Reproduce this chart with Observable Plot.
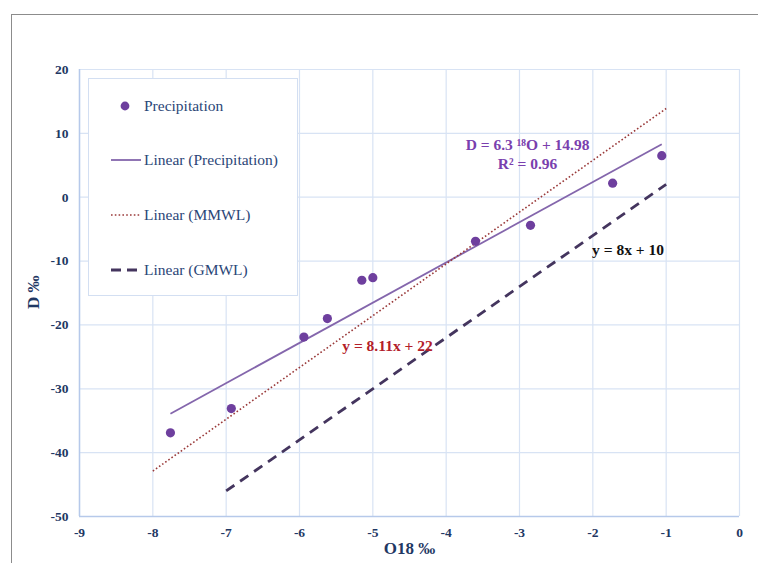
<!DOCTYPE html>
<html>
<head>
<meta charset="utf-8">
<script src="https://cdn.jsdelivr.net/npm/d3@7"></script>
<script src="https://cdn.jsdelivr.net/npm/@observablehq/plot@0.6"></script>
<style>
  html, body { margin: 0; padding: 0; background: #fff; }
  #wrap { position: relative; width: 758px; height: 563px; overflow: hidden; }
  #frame { position: absolute; left: 11px; top: 14px; width: 900px; height: 700px;
           border-left: 1.5px solid #8c8c8c; border-top: 1.5px solid #8c8c8c; }
  #chart { position: absolute; left: 0; top: 0; }
  #legend { position: absolute; left: 88px; top: 78px; width: 208px; height: 216px;
            border: 1.5px solid #d3dff2; background: #fff;
            font-family: "Liberation Serif", "Times New Roman", serif; font-size: 15.5px; color: #2b4677; }
  .item { position: absolute; left: 22px; display: flex; align-items: center; height: 20px; white-space: nowrap; }
  .item svg { margin-right: 3px; }
</style>
</head>
<body>
<div id="wrap">
  <div id="frame"></div>
  <div id="chart"></div>
  <div id="legend"></div>
</div>
<script>
// δ18O (‰) and δD (‰) of precipitation samples
const o18 = [-7.76, -6.93, -5.94, -5.62, -5.15, -5.0, -3.6, -2.85, -1.73, -1.06];
const dD  = [-36.9, -33.1, -21.9, -19.0, -13.0, -12.6, -6.9, -4.4, 2.2, 6.5];

// Water lines: name, slope, intercept, x extent
const lineNames  = ["Linear (Precipitation)", "Linear (MMWL)", "Linear (GMWL)"];
const slopes     = [6.3, 8.11, 8];
const intercepts = [14.98, 22, 10];
const xStart     = [-7.76, -8, -7];
const xEnd       = [-1.06, -1, -1];
const strokes    = ["#8466ac", "#9a3a3a", "#44355e"];
const dashes     = [null, "1.6 2.2", "10 7"];
const widths     = [1.8, 1.6, 2.8];

// Equation labels
const labelText  = ["D = 6.3 ¹⁸O + 14.98\nR² = 0.96", "y = 8.11x + 22", "y = 8x + 10"];
const labelX     = [-2.89, -4.80, -1.52];
const labelY     = [6.9, -23.1, -8.0];
const labelColor = ["#7a3fae", "#b3202a", "#111111"];

// Axis ticks
const xTicks = d3.range(-9, 1, 1);
const yTicks = d3.range(-50, 21, 10);

const points = o18.map((x, i) => ({x, y: dD[i]}));
const lines = lineNames.flatMap((name, i) => [
  {name, i, x: xStart[i], y: slopes[i] * xStart[i] + intercepts[i]},
  {name, i, x: xEnd[i],   y: slopes[i] * xEnd[i]   + intercepts[i]}
]);
const labels = labelText.map((t, i) => ({t, x: labelX[i], y: labelY[i], c: labelColor[i]}));

const serif = "Liberation Serif, Times New Roman, serif";
const tickStyle = {fill: "#1f3864", fontWeight: "bold", fontSize: 13.5, fontFamily: serif, tickFormat: d => String(d)};

const chart = Plot.plot({
  width: 758,
  height: 563,
  marginLeft: 79,
  marginRight: 19,
  marginTop: 69,
  marginBottom: 47,
  style: {background: "transparent", overflow: "visible", fontFamily: serif},
  x: {domain: [-9, 0]},
  y: {domain: [-50, 20]},
  marks: [
    Plot.gridX(xTicks, {stroke: "#d8e3f4", strokeOpacity: 1, strokeWidth: 1.2}),
    Plot.gridY(yTicks, {stroke: "#d8e3f4", strokeOpacity: 1, strokeWidth: 1.2}),
    Plot.ruleX([-9], {stroke: "#b6c9ea", strokeWidth: 1.5}),
    Plot.ruleY([-50], {stroke: "#b6c9ea", strokeWidth: 1.5}),
    Plot.axisX(xTicks, {tickSize: 0, tickPadding: 11, ...tickStyle, label: null}),
    Plot.axisY(yTicks, {tickSize: 0, tickPadding: 11, ...tickStyle, label: null}),
    ...lineNames.map((name, i) => Plot.line(lines.filter(d => d.i === i), {
      x: "x", y: "y", stroke: strokes[i], strokeWidth: widths[i],
      strokeDasharray: dashes[i], strokeLinecap: "butt"
    })),
    Plot.dot(points, {x: "x", y: "y", r: 4.6, fill: "#6e3f9e", stroke: "none",
      style: "filter: drop-shadow(1px 1.5px 1.2px rgba(0,0,0,0.35))"}),
    Plot.text(labels, {x: "x", y: "y", text: "t", fill: "c", fontWeight: "bold",
      fontSize: 15.5, fontFamily: serif, lineHeight: 1.25}),
    Plot.text(["O18 ‰"], {frameAnchor: "bottom", dy: 37, fill: "#1f3864", fontWeight: "bold",
      fontSize: 17, fontFamily: serif}),
    Plot.text(["D ‰"], {frameAnchor: "left", dx: -46, dy: 16, rotate: -90, fill: "#1f3864",
      fontWeight: "bold", fontSize: 17, fontFamily: serif})
  ]
});
document.getElementById("chart").append(chart);

// Legend
const legend = document.getElementById("legend");
const legendItems = [
  {name: "Precipitation", kind: "dot"},
  ...lineNames.map((name, i) => ({name, kind: "line", i}))
];
const legendTop = [17, 71, 126, 181];
legendItems.forEach((it, k) => {
  const div = document.createElement("div");
  div.className = "item";
  div.style.top = legendTop[k] + "px";
  let sw;
  if (it.kind === "dot") {
    sw = `<svg width="30" height="12"><circle cx="14" cy="6" r="4.4" fill="#6e3f9e"/></svg>`;
  } else {
    const i = it.i;
    sw = `<svg width="30" height="12"><line x1="0" x2="30" y1="6" y2="6" stroke="${strokes[i]}"
      stroke-width="${widths[i]}" ${dashes[i] ? `stroke-dasharray="${i === 2 ? "10 6" : dashes[i]}"` : ""}/></svg>`;
  }
  div.innerHTML = sw + `<span>${it.name}</span>`;
  legend.append(div);
});
</script>
</body>
</html>
